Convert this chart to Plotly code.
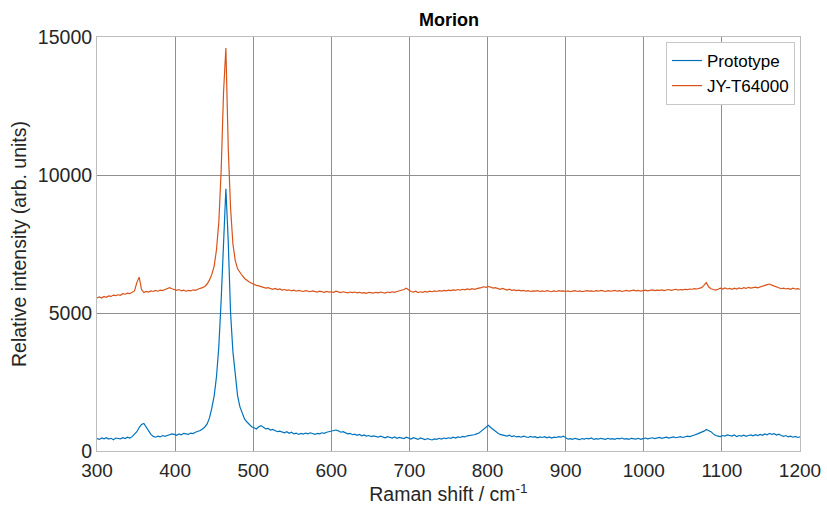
import plotly.graph_objects as go

# Raman shift grid (cm^-1), 3 cm^-1 steps from 300 to 1200
raman_shift = list(range(300, 1201, 3))

prototype = [
    450, 420, 470, 440, 480, 430, 460, 410, 470, 450,
    440, 480, 450, 500, 470, 520, 600, 700, 850, 960,
    1000, 880, 720, 600, 530, 500, 540, 510, 560, 530,
    560, 590, 620, 600, 570, 620, 590, 640, 610, 600,
    650, 630, 680, 700, 740, 800, 870, 980, 1200, 1550,
    2000, 2700, 3800, 5500, 7800, 9500, 7600, 5000, 3600, 2700,
    2000, 1600, 1350, 1150, 1050, 950, 880, 840, 800, 880,
    920, 860, 800, 820, 760, 780, 740, 700, 720, 690,
    660, 700, 640, 680, 620, 650, 600, 640, 610, 650,
    620, 660, 630, 600, 640, 620, 660, 640, 680, 700,
    700, 720, 760, 730, 680, 700, 650, 620, 640, 590,
    610, 570, 600, 550, 580, 540, 560, 520, 550, 530,
    500, 540, 510, 480, 520, 490, 470, 510, 460, 490,
    480, 450, 500, 460, 430, 480, 450, 420, 470, 440,
    410, 450, 430, 400, 440, 420, 460, 430, 470, 450,
    480, 460, 500, 470, 510, 490, 530, 510, 550, 560,
    560, 590, 620, 650, 720, 800, 880, 930, 850, 780,
    700, 650, 600, 580, 560, 540, 570, 520, 550, 510,
    530, 500, 540, 510, 490, 530, 500, 520, 480, 510,
    490, 520, 480, 510, 470, 500, 490, 520, 500, 540,
    470, 430, 450, 420, 460, 440, 410, 450, 430, 460,
    440, 470, 420, 450, 430, 460, 440, 420, 460, 430,
    450, 420, 460, 440, 470, 430, 450, 420, 460, 440,
    430, 460, 420, 450, 470, 440, 460, 480, 450, 470,
    490, 460, 480, 500, 470, 490, 510, 480, 500, 520,
    490, 510, 540, 520, 560, 580, 610, 640, 680, 720,
    780, 740, 700, 620, 560, 540, 520, 560, 540, 580,
    560, 540, 580, 520, 560, 540, 570, 530, 560, 580,
    550, 590, 560, 600, 570, 620, 590, 640, 600, 630,
    580, 610, 560, 530, 560, 510, 540, 500, 530, 490,
    510,
]

jy_t64000 = [
    5550, 5580, 5540, 5600, 5570, 5620, 5600, 5650, 5630, 5660,
    5640, 5700, 5680, 5720, 5700, 5740, 5800, 6100, 6300, 5850,
    5740, 5780, 5760, 5800, 5780, 5820, 5790, 5830, 5810, 5850,
    5880, 5920, 5880, 5840, 5820, 5850, 5800, 5830, 5790, 5820,
    5800, 5840, 5820, 5860, 5880, 5920, 5960, 6050, 6200, 6400,
    6700, 7300, 8300, 10200, 13000, 14600, 11000, 8800, 7500, 6900,
    6600, 6450, 6350, 6250, 6180, 6120, 6080, 6030, 6000, 5980,
    5950, 5930, 5900, 5920, 5880, 5860, 5890, 5850, 5870, 5830,
    5850, 5820, 5840, 5800, 5830, 5790, 5820, 5800, 5780, 5810,
    5790, 5770, 5800, 5780, 5760, 5790, 5770, 5750, 5780, 5760,
    5770, 5750, 5790, 5760, 5740, 5770, 5750, 5730, 5760, 5740,
    5760, 5730, 5750, 5720, 5740, 5710, 5750, 5730, 5720, 5750,
    5730, 5760, 5740, 5720, 5760, 5740, 5770, 5750, 5780, 5800,
    5820, 5850, 5900, 5830, 5780, 5760, 5790, 5740, 5770, 5750,
    5780, 5760, 5790, 5770, 5800, 5780, 5810, 5790, 5820, 5800,
    5830, 5810, 5840, 5820, 5850, 5830, 5860, 5840, 5870, 5850,
    5880, 5860, 5890, 5900, 5920, 5950, 5930, 5960, 5940, 5900,
    5920, 5880, 5860, 5890, 5850, 5830, 5860, 5820, 5840, 5810,
    5830, 5800, 5820, 5790, 5810, 5780, 5800, 5790, 5810, 5780,
    5800, 5780, 5810, 5790, 5770, 5800, 5780, 5810, 5790, 5800,
    5780, 5800, 5770, 5790, 5810, 5780, 5800, 5770, 5790, 5810,
    5790, 5800, 5780, 5810, 5790, 5820, 5800, 5780, 5810, 5790,
    5800, 5820, 5790, 5810, 5780, 5800, 5820, 5790, 5810, 5830,
    5800, 5820, 5790, 5810, 5830, 5800, 5820, 5840, 5810, 5830,
    5820, 5840, 5810, 5830, 5850, 5820, 5840, 5860, 5830, 5850,
    5840, 5860, 5850, 5870, 5860, 5880, 5870, 5900, 5920, 6000,
    6100, 5950, 5880, 5850, 5830, 5860, 5900, 5870, 5910, 5870,
    5890, 5860, 5900, 5870, 5910, 5880, 5920, 5890, 5930, 5900,
    5920, 5940, 5910, 5950, 5970, 6000, 6030, 6050, 6010, 5980,
    5940, 5910, 5880, 5900, 5870, 5890, 5860, 5900, 5870, 5880,
    5860,
]

x_ticks = [300, 400, 500, 600, 700, 800, 900, 1000, 1100, 1200]
y_ticks = [0, 5000, 10000, 15000]

FONT = "Liberation Sans, Arial, Helvetica, sans-serif"
TXT = "#262626"

fig = go.Figure()
fig.add_trace(go.Scatter(x=raman_shift, y=prototype, mode="lines", name="Prototype",
                         line=dict(color="#0072BD", width=1.2)))
fig.add_trace(go.Scatter(x=raman_shift, y=jy_t64000, mode="lines", name="JY-T64000",
                         line=dict(color="#D95319", width=1.2)))

fig.update_layout(
    width=827, height=515,
    margin=dict(l=97, r=27, t=37, b=64, autoexpand=False),
    paper_bgcolor="white", plot_bgcolor="white",
    font=dict(family=FONT, color=TXT, size=19),
    title=dict(text="<b>Morion</b>", x=0.5429, xanchor="center", y=0.961, yanchor="middle",
               font=dict(family=FONT, size=18, color="#000000")),
    showlegend=True,
    legend=dict(x=0.9929, xanchor="right", y=0.988, yanchor="top",
                bgcolor="white", bordercolor="#c8c8c8", borderwidth=1,
                font=dict(family=FONT, size=17, color="#000000"),
                tracegroupgap=0, itemwidth=30),
)
fig.update_xaxes(
    range=[300, 1200], tickvals=x_ticks, ticktext=[str(v) for v in x_ticks],
    automargin=False,
    showgrid=True, gridcolor="#8f8f8f", gridwidth=1,
    showline=True, linecolor="#bdbdbd", linewidth=1, mirror=True,
    ticks="", zeroline=False, tickfont=dict(size=19, color=TXT),
    ticklabelstandoff=2,
    title=dict(text="Raman shift / cm<sup>-1</sup>", font=dict(size=19.5, color=TXT), standoff=3),
)
fig.update_yaxes(
    range=[0, 15000], tickvals=y_ticks, ticktext=[str(v) for v in y_ticks],
    automargin=False,
    showgrid=True, gridcolor="#8f8f8f", gridwidth=1,
    showline=True, linecolor="#bdbdbd", linewidth=1, mirror=True,
    ticks="", zeroline=False, tickfont=dict(size=19.5, color=TXT),
    title=dict(text="Relative intensity (arb. units)", font=dict(size=19.5, color=TXT), standoff=6),
)

fig.write_html("out.html", config={"displayModeBar": False},
               post_script="document.body.style.margin='0';document.body.style.overflow='hidden';")
